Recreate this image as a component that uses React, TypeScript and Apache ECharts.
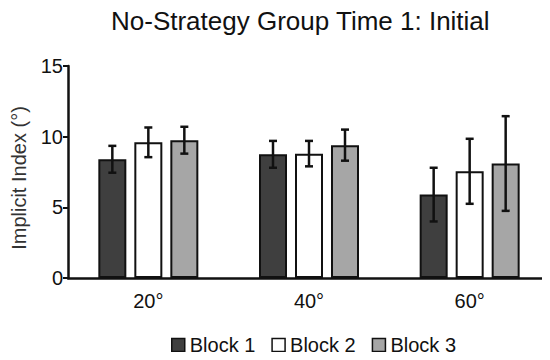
import React, { useEffect, useRef } from "react";
import * as echarts from "echarts";

const categories = ["20°", "40°", "60°"];
const seriesNames = ["Block 1", "Block 2", "Block 3"];
const block1 = [8.4, 8.75, 5.9];
const block2 = [9.6, 8.8, 7.55];
const block3 = [9.75, 9.4, 8.1];
const err1 = [0.95, 0.95, 1.9];
const err2 = [1.05, 0.9, 2.3];
const err3 = [0.95, 1.1, 3.35];
const yTicks = [0, 5, 10, 15];

const colors = ["#3f3f3f", "#ffffff", "#a6a6a6"];

export default function App() {
  const ref = useRef<HTMLDivElement>(null);
  useEffect(() => {
    if (!ref.current) return;
    const chart = echarts.init(ref.current, null, { renderer: "svg" });
    const means = [block1, block2, block3];
    const errs = [err1, err2, err3];
    const errData: number[][] = [];
    means.forEach((arr, s) => {
      arr.forEach((v, c) => errData.push([c, v, errs[s][c], s]));
    });
    const font = "Liberation Sans";
    const barW = 28;
    const step = 36;
    chart.setOption({
      animation: false,
      title: {
        text: "No-Strategy Group Time 1: Initial",
        left: 111,
        top: 8,
        padding: 0,
        textStyle: { fontFamily: font, fontSize: 26, fontWeight: "normal", color: "#111" },
      },
      legend: {
        data: seriesNames,
        left: 171,
        top: 335,
        padding: 0,
        itemWidth: 13,
        itemHeight: 13,
        itemGap: 16,
        icon: "rect",
        itemStyle: { borderColor: "#111", borderWidth: 1.5 },
        textStyle: { fontFamily: font, fontSize: 20, color: "#111" },
      },
      grid: { left: 68, right: -5, top: 66, bottom: 82, containLabel: false },
      xAxis: {
        type: "category",
        data: categories,
        axisLine: { lineStyle: { color: "#111", width: 2.5 } },
        axisTick: { show: false },
        axisLabel: { fontFamily: font, fontSize: 20, color: "#111", margin: 13 },
      },
      yAxis: {
        type: "value",
        min: yTicks[0],
        max: yTicks[yTicks.length - 1],
        interval: 5,
        splitLine: { show: false },
        axisLine: { show: true, lineStyle: { color: "#111", width: 2.5 } },
        axisTick: { show: true, length: 5, lineStyle: { color: "#111", width: 2 } },
        axisLabel: { fontFamily: font, fontSize: 20, color: "#111", margin: 5 },
      },
      graphic: [
        {
          type: "text",
          x: 19,
          y: 178,
          rotation: Math.PI / 2,
          style: {
            text: "Implicit Index (°)",
            fontFamily: font,
            fontSize: 20,
            fill: "#333",
            textAlign: "center",
            textVerticalAlign: "middle",
          },
        },
      ],
      series: [
        ...seriesNames.map((name, i) => ({
          name,
          type: "bar",
          data: means[i],
          barWidth: barW,
          barGap: `${((step - barW) / barW) * 100}%`,
          itemStyle: { color: colors[i], borderColor: "#111", borderWidth: 2 },
        })),
        {
          name: "err",
          type: "custom",
          data: errData,
          encode: { x: 0, y: 1 },
          z: 5,
          renderItem: (params: any, api: any) => {
            const c = api.value(0);
            const m = api.value(1);
            const e = api.value(2);
            const s = api.value(3);
            const top = api.coord([c, m + e]);
            const bot = api.coord([c, m - e]);
            const x = top[0] + (s - 1) * step;
            const hw = 4;
            const st = { stroke: "#111", lineWidth: 2.5 };
            return {
              type: "group",
              children: [
                { type: "line", shape: { x1: x, y1: top[1], x2: x, y2: bot[1] }, style: st },
                { type: "line", shape: { x1: x - hw, y1: top[1], x2: x + hw, y2: top[1] }, style: st },
                { type: "line", shape: { x1: x - hw, y1: bot[1], x2: x + hw, y2: bot[1] }, style: st },
              ],
            };
          },
        },
      ],
    });
    return () => chart.dispose();
  }, []);
  return <div ref={ref} style={{ width: 550, height: 360, margin: -8 }} />;
}
